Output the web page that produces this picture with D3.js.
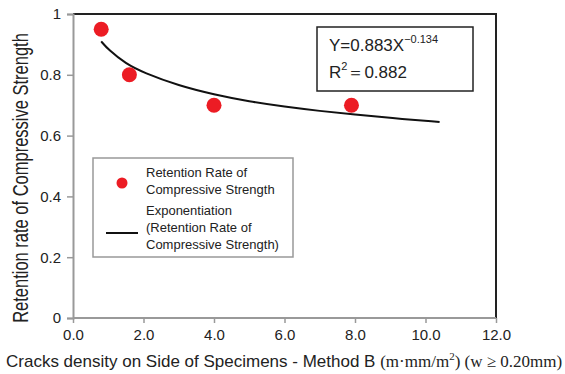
<!DOCTYPE html>
<html>
<head>
<meta charset="utf-8">
<script src="https://cdn.jsdelivr.net/npm/d3@7"></script>
<style>
  body { margin: 0; background: #fff; }
  text { font-family: Arial, "Liberation Sans", sans-serif; fill: #222; }
  .serif { font-family: "Times New Roman", "Liberation Serif", serif; }
</style>
</head>
<body>
<svg width="565" height="374"></svg>
<script>
// measured points
var density = [0.8, 1.6, 4.0, 7.9];
var retention = [0.95, 0.80, 0.70, 0.70];

// trend line
var fitX = [0.8, 1.0, 1.5, 2.0, 3.0, 4.0, 5.0, 6.0, 7.0, 8.0, 9.0, 10.4];
var fitY = [0.91, 0.883, 0.836, 0.807, 0.764, 0.735, 0.712, 0.695, 0.681, 0.669, 0.658, 0.645];

var xTicks = [0, 2, 4, 6, 8, 10, 12];
var yTicks = [0, 0.2, 0.4, 0.6, 0.8, 1];

var svg = d3.select("svg");
var margin = { top: 14, right: 69, bottom: 56, left: 73 };
var width = +svg.attr("width") - margin.left - margin.right;
var height = +svg.attr("height") - margin.top - margin.bottom;

var x = d3.scaleLinear().domain([0, 12]).range([0, width]);
var y = d3.scaleLinear().domain([0, 1]).range([height, 0]);

var g = svg.append("g")
  .attr("transform", "translate(" + margin.left + "," + margin.top + ")");

// top and right frame
g.append("path")
  .attr("d", "M0,0H" + width + "V" + height)
  .attr("fill", "none")
  .attr("stroke", "#222")
  .attr("stroke-width", 2);

// axes
var xAxis = g.append("g")
  .attr("transform", "translate(0," + height + ")")
  .call(d3.axisBottom(x).tickValues(xTicks).tickFormat(d3.format(".1f")).tickSize(5).tickPadding(6));

var yAxis = g.append("g")
  .call(d3.axisLeft(y).tickValues(yTicks).tickFormat(function(d) { return d === 0 || d === 1 ? d : d3.format(".1f")(d); }).tickSize(6).tickPadding(6));

[xAxis, yAxis].forEach(function(a) {
  a.select(".domain").attr("stroke", "#999").attr("stroke-width", 2);
  a.selectAll(".tick line").attr("stroke", "#999").attr("stroke-width", 1.5);
  a.selectAll(".tick text").style("font-size", "15px").attr("fill", "#222");
});
xAxis.select(".domain").attr("d", "M0,0H" + width);

// trend line
var line = d3.line()
  .x(function(d, i) { return x(fitX[i]); })
  .y(function(d) { return y(d); })
  .curve(d3.curveBasis);

g.append("path")
  .datum(fitY)
  .attr("d", line)
  .attr("fill", "none")
  .attr("stroke", "#111")
  .attr("stroke-width", 2);

// points
g.selectAll("circle.pt")
  .data(retention)
  .enter().append("circle")
    .attr("class", "pt")
    .attr("cx", function(d, i) { return x(density[i]); })
    .attr("cy", function(d) { return y(d); })
    .attr("r", 7.5)
    .attr("fill", "#ec1c24");

// equation box
var eq = svg.append("g");
eq.append("rect")
  .attr("x", 317).attr("y", 27).attr("width", 156).attr("height", 64)
  .attr("fill", "#fff").attr("stroke", "#222").attr("stroke-width", 1.5);
var t1 = eq.append("text").attr("x", 329).attr("y", 51).style("font-size", "17px");
t1.append("tspan").text("Y=0.883X");
t1.append("tspan").attr("dy", -8).style("font-size", "11px").text("\u22120.134");
var t2 = eq.append("text").attr("x", 329).attr("y", 78).style("font-size", "17px");
t2.append("tspan").text("R");
t2.append("tspan").attr("dy", -8).style("font-size", "11px").text("2");
t2.append("tspan").attr("dy", 8).text("\uFF1D0.882");

// legend
var lg = svg.append("g");
lg.append("rect")
  .attr("x", 93).attr("y", 158).attr("width", 200).attr("height", 99)
  .attr("fill", "#fff").attr("stroke", "#999").attr("stroke-width", 1.5);
lg.append("circle").attr("cx", 122).attr("cy", 183).attr("r", 5.5).attr("fill", "#ec1c24");
lg.append("line").attr("x1", 106).attr("x2", 138).attr("y1", 233).attr("y2", 233)
  .attr("stroke", "#111").attr("stroke-width", 2);
var legendLines = [
  ["Retention Rate of", 177],
  ["Compressive Strength", 194],
  ["Exponentiation", 215],
  ["(Retention Rate of", 232],
  ["Compressive Strength)", 249]
];
lg.selectAll("text.lg")
  .data(legendLines)
  .enter().append("text")
    .attr("class", "lg")
    .attr("x", 146)
    .attr("y", function(d) { return d[1]; })
    .style("font-size", "13px")
    .text(function(d) { return d[0]; });

// axis titles (source image is a bit stretched, so glyphs are taller)
svg.append("text")
  .attr("transform", "translate(28,178) rotate(-90) scale(1,1.35)")
  .attr("text-anchor", "middle")
  .style("font-size", "16.5px")
  .text("Retention rate of Compressive Strength");

var xt = svg.append("text")
  .attr("x", 6).attr("y", 367)
  .style("font-size", "17px");
xt.append("tspan").text("Cracks density on Side of Specimens - Method B ");
xt.append("tspan").attr("class", "serif").text("(m\u00B7mm/m");
xt.append("tspan").attr("class", "serif").attr("dy", -7).style("font-size", "11px").text("2");
xt.append("tspan").attr("class", "serif").attr("dy", 7).text(") (w \u2265 0.20mm)");
</script>
</body>
</html>
